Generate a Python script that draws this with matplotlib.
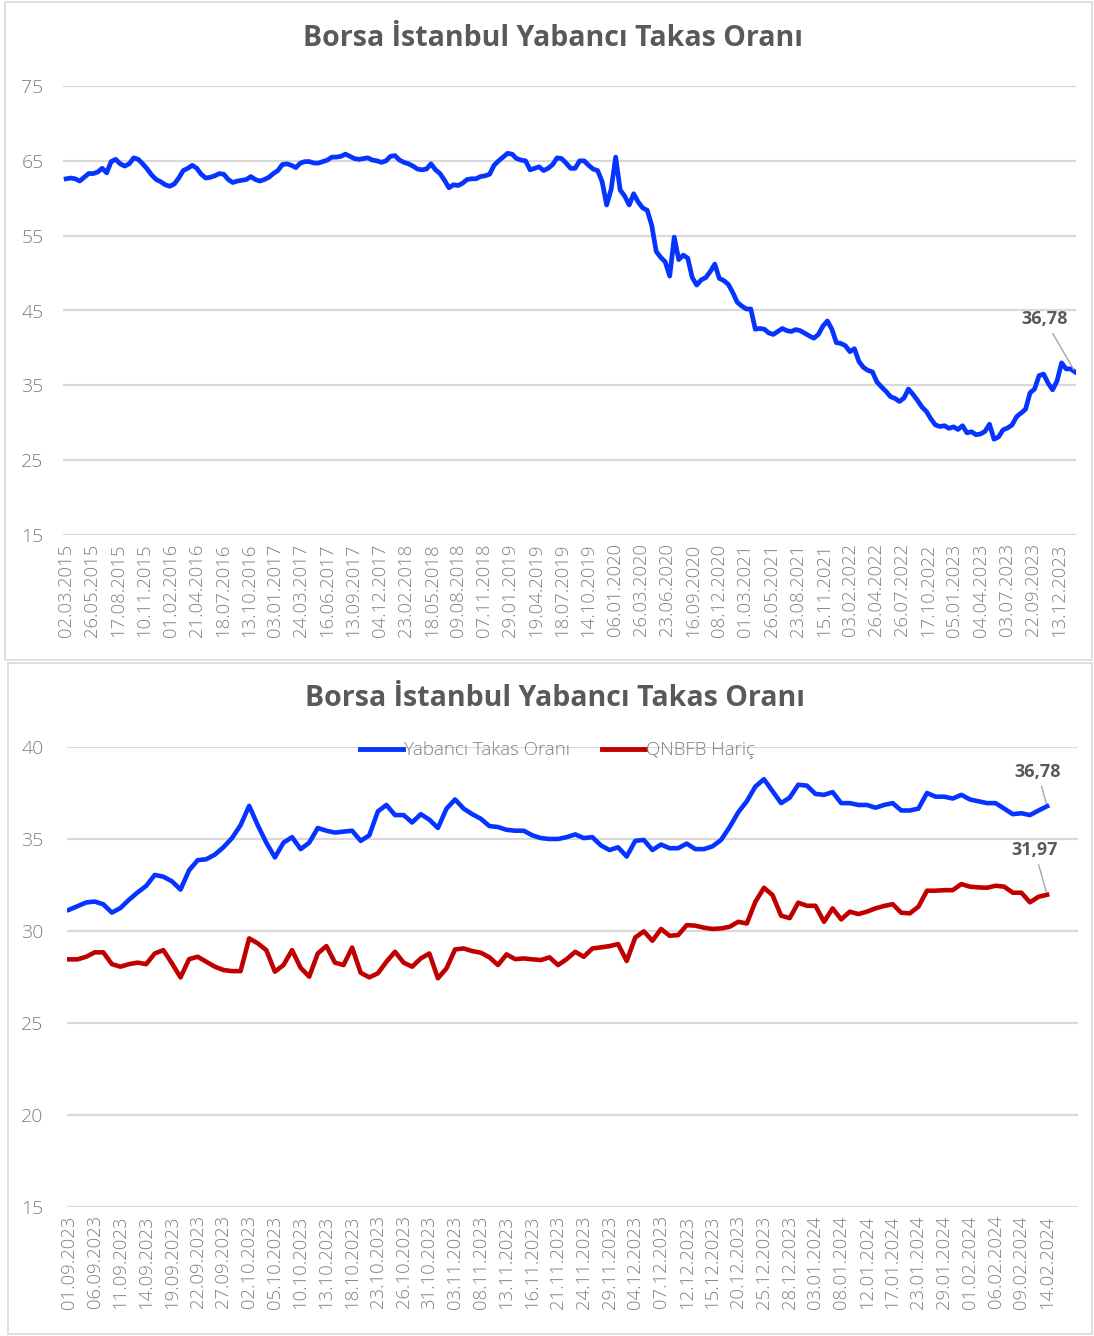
import matplotlib
matplotlib.use("Agg")
import matplotlib.pyplot as plt
import numpy as np
from matplotlib.patches import Rectangle

plt.rcParams['font.family'] = ['Open Sans', 'DejaVu Sans']

TITLE = "Borsa İstanbul Yabancı Takas Oranı"

# ---------------- top chart data (sampled every 10 trading days) ----------------
top_tick_labels = ["02.03.2015", "26.05.2015", "17.08.2015", "10.11.2015", "01.02.2016",
                   "21.04.2016", "18.07.2016", "13.10.2016", "03.01.2017", "24.03.2017",
                   "16.06.2017", "13.09.2017", "04.12.2017", "23.02.2018", "18.05.2018",
                   "09.08.2018", "07.11.2018", "29.01.2019", "19.04.2019", "18.07.2019",
                   "14.10.2019", "06.01.2020", "26.03.2020", "23.06.2020", "16.09.2020",
                   "08.12.2020", "01.03.2021", "26.05.2021", "23.08.2021", "15.11.2021",
                   "03.02.2022", "26.04.2022", "26.07.2022", "17.10.2022", "05.01.2023",
                   "04.04.2023", "03.07.2023", "22.09.2023", "13.12.2023"]
top_step_days = 10
top_tick_every_days = 58
top_values = [
    62.6, 62.7, 62.6, 62.3, 62.8, 63.3, 63.3, 63.5, 64.0, 63.4,
    64.9, 65.2, 64.6, 64.3, 64.6, 65.4, 65.2, 64.6, 63.9, 63.1,
    62.5, 62.2, 61.8, 61.6, 61.9, 62.7, 63.7, 64.0, 64.4, 64.0,
    63.2, 62.7, 62.8, 63.0, 63.3, 63.2, 62.5, 62.1, 62.3, 62.4,
    62.5, 62.9, 62.5, 62.3, 62.5, 62.8, 63.3, 63.7, 64.5, 64.6,
    64.4, 64.1, 64.7, 64.9, 64.9, 64.7, 64.7, 64.9, 65.1, 65.5,
    65.5, 65.6, 65.9, 65.6, 65.3, 65.2, 65.3, 65.4, 65.1, 65.0,
    64.8, 65.0, 65.6, 65.7, 65.1, 64.8, 64.6, 64.3, 63.9, 63.8,
    63.9, 64.6, 63.8, 63.3, 62.4, 61.4, 61.8, 61.7, 62.0, 62.5,
    62.6, 62.6, 62.9, 63.0, 63.2, 64.4, 65.0, 65.5, 66.0, 65.9,
    65.3, 65.1, 65.0, 63.8, 64.0, 64.2, 63.7, 64.0, 64.5, 65.4,
    65.3, 64.7, 64.0, 64.0, 65.0, 65.0, 64.4, 63.9, 63.7, 62.2,
    59.1, 61.2, 65.5, 61.1, 60.3, 59.1, 60.6, 59.5, 58.7, 58.4,
    56.4, 52.9, 52.1, 51.5, 49.6, 54.8, 51.8, 52.4, 52.0, 49.4,
    48.4, 49.1, 49.4, 50.2, 51.2, 49.3, 49.0, 48.5, 47.4, 46.1,
    45.6, 45.2, 45.2, 42.5, 42.6, 42.5, 42.0, 41.8, 42.2, 42.6,
    42.3, 42.2, 42.45, 42.3, 41.95, 41.6, 41.3, 41.8, 42.9, 43.6,
    42.5, 40.7, 40.6, 40.3, 39.5, 39.9, 38.2, 37.4, 37.0, 36.8,
    35.45, 34.8, 34.2, 33.5, 33.25, 32.85, 33.3, 34.5, 33.8, 33.0,
    32.1, 31.5, 30.5, 29.7, 29.5, 29.6, 29.25, 29.45, 29.1, 29.6,
    28.65, 28.8, 28.4, 28.5, 28.85, 29.8, 27.8, 28.1, 29.05, 29.3,
    29.7, 30.8, 31.3, 31.8, 34.0, 34.5, 36.3, 36.5, 35.3, 34.4,
    35.6, 38.0, 37.2, 37.2, 36.78]
top_yticks = [15, 25, 35, 45, 55, 65, 75]

# ---------------- bottom chart data (daily) ----------------
bot_tick_labels = ["01.09.2023", "06.09.2023", "11.09.2023", "14.09.2023", "19.09.2023",
                   "22.09.2023", "27.09.2023", "02.10.2023", "05.10.2023", "10.10.2023",
                   "13.10.2023", "18.10.2023", "23.10.2023", "26.10.2023", "31.10.2023",
                   "03.11.2023", "08.11.2023", "13.11.2023", "16.11.2023", "21.11.2023",
                   "24.11.2023", "29.11.2023", "04.12.2023", "07.12.2023", "12.12.2023",
                   "15.12.2023", "20.12.2023", "25.12.2023", "28.12.2023", "03.01.2024",
                   "08.01.2024", "12.01.2024", "17.01.2024", "23.01.2024", "29.01.2024",
                   "01.02.2024", "06.02.2024", "09.02.2024", "14.02.2024"]
bot_tick_every = 3
yabanci = [
    31.15, 31.35, 31.55, 31.6, 31.45, 31.0, 31.25, 31.7, 32.1, 32.45,
    33.05, 32.95, 32.7, 32.25, 33.3, 33.85, 33.9, 34.15, 34.55, 35.05,
    35.75, 36.8, 35.75, 34.8, 34.0, 34.8, 35.1, 34.45, 34.8, 35.6,
    35.45, 35.35, 35.4, 35.45, 34.9, 35.2, 36.5, 36.85, 36.3, 36.3,
    35.9, 36.35, 36.05, 35.6, 36.65, 37.15, 36.65, 36.35, 36.1, 35.7,
    35.65, 35.5, 35.45, 35.45, 35.2, 35.05, 35.0, 35.0, 35.1, 35.25,
    35.05, 35.1, 34.65, 34.4, 34.55, 34.05, 34.9, 34.95, 34.4, 34.7,
    34.5, 34.5, 34.75, 34.45, 34.45, 34.6, 34.95, 35.65, 36.45, 37.05,
    37.85, 38.25, 37.6, 36.95, 37.25, 37.95, 37.9, 37.45, 37.4, 37.55,
    36.95, 36.95, 36.85, 36.85, 36.7, 36.85, 36.95, 36.55, 36.55, 36.65,
    37.5, 37.3, 37.3, 37.2, 37.4, 37.15, 37.05, 36.95, 36.95, 36.65,
    36.35, 36.4, 36.3, 36.55, 36.78]
qnbfb_haric = [
    28.46, 28.46, 28.6, 28.84, 28.84, 28.2, 28.06, 28.2, 28.28, 28.2,
    28.78, 28.96, 28.24, 27.48, 28.47, 28.6, 28.33, 28.06, 27.88, 27.82,
    27.82, 29.6, 29.33, 28.96, 27.79, 28.15, 28.96, 28.0, 27.52, 28.78,
    29.18, 28.28, 28.15, 29.1, 27.73, 27.48, 27.7, 28.33, 28.87, 28.28,
    28.06, 28.51, 28.78, 27.43, 27.97, 29.0, 29.05, 28.91, 28.82, 28.57,
    28.15, 28.73, 28.47, 28.51, 28.46, 28.42, 28.57, 28.15, 28.47, 28.87,
    28.6, 29.05, 29.11, 29.18, 29.29, 28.37, 29.65, 29.98, 29.47, 30.11,
    29.74, 29.78, 30.32, 30.29, 30.18, 30.11, 30.14, 30.23, 30.5, 30.41,
    31.59, 32.35, 31.95, 30.83, 30.7, 31.54, 31.37, 31.37, 30.5, 31.23,
    30.63, 31.05, 30.92, 31.05, 31.23, 31.36, 31.46, 30.99, 30.96, 31.32,
    32.19, 32.19, 32.22, 32.22, 32.55, 32.41, 32.37, 32.35, 32.46, 32.41,
    32.08, 32.08, 31.56, 31.86, 31.97]
bot_yticks = [15, 20, 25, 30, 35, 40]
series_names = ["Yabancı Takas Oranı", "QNBFB Hariç"]

# ---------------- styling ----------------
BLUE = "#0533FF"
RED = "#C00000"
GRID = "#D9D9D9"
TICK = "#7F7F7F"
TITLE_C = "#595959"
LABEL_C = "#595959"

W, H = 1094, 1336
fig = plt.figure(figsize=(W / 100, H / 100), dpi=100)
fig.patch.set_facecolor("white")


def fx(px):
    return px / W


def fy(py):
    return 1 - py / H


# panel borders
fig.add_artist(Rectangle((fx(5), fy(660)), fx(1092) - fx(5), fy(2) - fy(660),
                         transform=fig.transFigure, fill=False, edgecolor=GRID, lw=1.2))
fig.add_artist(Rectangle((fx(8), fy(1334)), fx(1092) - fx(8), fy(663) - fy(1334),
                         transform=fig.transFigure, fill=False, edgecolor=GRID, lw=1.2))


def style_axes(ax, yticks, ypad):
    for s in ax.spines.values():
        s.set_visible(False)
    ax.set_yticks(yticks)
    ax.set_ylim(yticks[0], yticks[-1])
    ax.yaxis.grid(True, color=GRID, lw=1.6)
    ax.set_axisbelow(True)
    ax.tick_params(axis="y", length=0, pad=ypad, labelsize=14, labelcolor=TICK)
    ax.tick_params(axis="x", length=0, pad=6, labelsize=13.3, labelcolor=TICK)
    for lab in ax.get_yticklabels() + ax.get_xticklabels():
        lab.set_fontweight("light")


# ---------------- top chart ----------------
ax1 = fig.add_axes([fx(63), fy(535), fx(1076) - fx(63), fy(86) - fy(535)])
x_top = np.arange(len(top_values)) * top_step_days
ax1.plot(x_top, top_values, color=BLUE, lw=3.4, solid_joinstyle="round")
ax1.set_xlim(-7, x_top[-1] + 2)
ax1.set_xticks(np.arange(len(top_tick_labels)) * top_tick_every_days)
ax1.set_xticklabels(top_tick_labels, rotation=90, va="top", ha="center")
style_axes(ax1, top_yticks, 14)
ax1.annotate("36,78", xy=(x_top[-1], top_values[-1]), xytext=(-22, 38),
             textcoords="offset points", ha="center", va="center",
             fontsize=13, fontweight="bold", color=LABEL_C,
             arrowprops=dict(arrowstyle="-", color="#A6A6A6", lw=1.0,
                             shrinkA=2, shrinkB=2))
fig.text(fx(553), fy(38), TITLE, ha="center", va="center", fontsize=20.5,
         fontweight="bold", color=TITLE_C)

# ---------------- bottom chart ----------------
ax2 = fig.add_axes([fx(67), fy(1207), fx(1078) - fx(67), fy(747) - fy(1207)])
x_bot = np.arange(len(yabanci))
ax2.plot(x_bot, yabanci, color=BLUE, lw=3.3, solid_joinstyle="round",
         label=series_names[0])
ax2.plot(x_bot, qnbfb_haric, color=RED, lw=3.3, solid_joinstyle="round",
         label=series_names[1])
ax2.set_xlim(-0.23, 117.6)
ax2.set_xticks(np.arange(len(bot_tick_labels)) * bot_tick_every)
ax2.set_xticklabels(bot_tick_labels, rotation=90, va="top", ha="center")
style_axes(ax2, bot_yticks, 17)
ax2.annotate("36,78", xy=(x_bot[-1], yabanci[-1]), xytext=(-7, 25),
             textcoords="offset points", ha="center", va="center",
             fontsize=13, fontweight="bold", color=LABEL_C,
             arrowprops=dict(arrowstyle="-", color="#A6A6A6", lw=1.0,
                             shrinkA=2, shrinkB=2))
ax2.annotate("31,97", xy=(x_bot[-1], qnbfb_haric[-1]), xytext=(-9, 32),
             textcoords="offset points", ha="center", va="center",
             fontsize=13, fontweight="bold", color=LABEL_C,
             arrowprops=dict(arrowstyle="-", color="#A6A6A6", lw=1.0,
                             shrinkA=2, shrinkB=2))
leg = ax2.legend(loc="center", bbox_to_anchor=(0.485, 0.993), ncol=2, frameon=False,
                 fontsize=13.5, handlelength=2.3, handletextpad=0.05,
                 columnspacing=1.7, borderaxespad=0)
for t in leg.get_texts():
    t.set_color(TICK)
    t.set_fontweight("light")
for h in leg.get_lines():
    h.set_linewidth(3.5)
fig.text(fx(555), fy(698), TITLE, ha="center", va="center", fontsize=20.5,
         fontweight="bold", color=TITLE_C)

fig.savefig("out.png", dpi=100, facecolor="white")
